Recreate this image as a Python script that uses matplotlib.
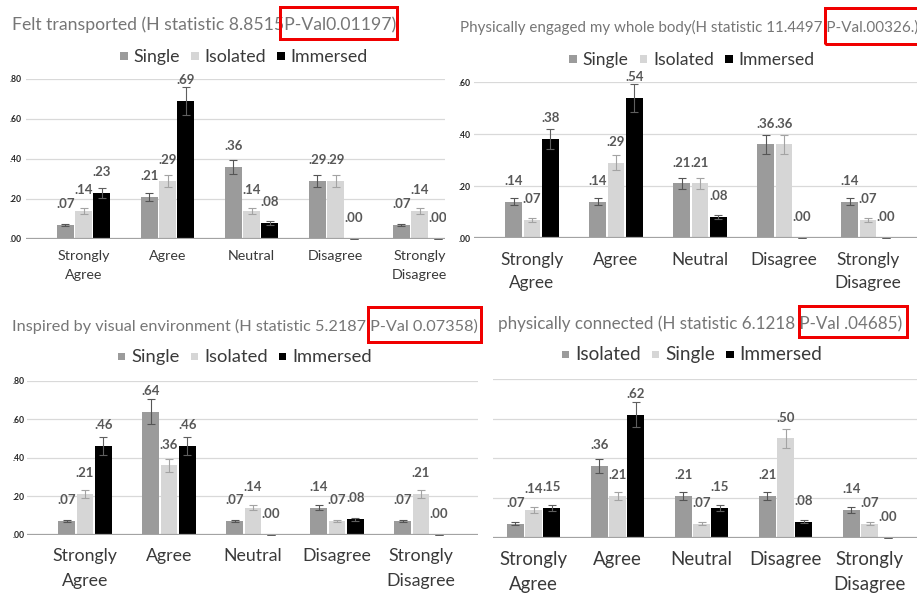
import matplotlib
matplotlib.use("Agg")
import matplotlib.pyplot as plt
import numpy as np
from matplotlib.patches import Rectangle
from matplotlib.transforms import Bbox, TransformedBbox, blended_transform_factory

# ---------------- data ----------------
categories = ["Strongly\nAgree", "Agree", "Neutral", "Disagree", "Strongly\nDisagree"]

p1_title = "Felt transported (H statistic 8.8515P-Val0.01197)"
p1_names = ["Single", "Isolated", "Immersed"]
p1_single = [0.07, 0.21, 0.36, 0.29, 0.07]
p1_isolated = [0.14, 0.29, 0.14, 0.29, 0.14]
p1_immersed = [0.23, 0.69, 0.08, 0.00, 0.00]
p1_yticks = [0.0, 0.2, 0.4, 0.6, 0.8]

p2_title = "Physically engaged my whole body(H statistic 11.4497 P-Val.00326.)"
p2_names = ["Single", "Isolated", "Immersed"]
p2_single = [0.14, 0.14, 0.21, 0.36, 0.14]
p2_isolated = [0.07, 0.29, 0.21, 0.36, 0.07]
p2_immersed = [0.38, 0.54, 0.08, 0.00, 0.00]
p2_yticks = [0.0, 0.2, 0.4, 0.6]

p3_title = "Inspired by visual environment (H statistic 5.2187 P-Val 0.07358)"
p3_names = ["Single", "Isolated", "Immersed"]
p3_single = [0.07, 0.64, 0.07, 0.14, 0.07]
p3_isolated = [0.21, 0.36, 0.14, 0.07, 0.21]
p3_immersed = [0.46, 0.46, 0.00, 0.08, 0.00]
p3_yticks = [0.0, 0.2, 0.4, 0.6, 0.8]

p4_title = "physically connected (H statistic 6.1218 P-Val .04685)"
p4_names = ["Isolated", "Single", "Immersed"]
p4_isolated = [0.07, 0.36, 0.21, 0.21, 0.14]
p4_single = [0.14, 0.21, 0.07, 0.50, 0.07]
p4_immersed = [0.15, 0.62, 0.15, 0.08, 0.00]
p4_yticks = [0.0, 0.2, 0.4, 0.6, 0.8]

ERR_FRACTION = 0.10  # Excel "percentage" error bars

# ---------------- style ----------------
W, H = 917, 594
FONT = "Lato"
BAR_COLORS = ["#9b9b9b", "#d6d6d6", "#000000"]
ERR_COLORS = ["#555555", "#a3a3a3", "#5f5f5f"]
TITLE_COLOR = "#767676"
TEXT_COLOR = "#3a3a3a"
LABEL_COLOR = "#585858"
RED = "#f00000"

fig = plt.figure(figsize=(W / 100, H / 100), dpi=100)
fig.patch.set_facecolor("white")
renderer = fig.canvas.get_renderer()


def fx(px):
    return px / W


def fy(py):
    return 1 - py / H


def text_width(s, size, weight="normal"):
    t = fig.text(0, 0, s, fontsize=size, family=FONT, fontweight=weight)
    w = t.get_window_extent(renderer).width
    t.remove()
    return w


def size_for_width(s, target, weight="normal"):
    base = 12.0
    return base * target / text_width(s, base, weight)


def fitted_title(s, x0, x1, baseline):
    fs = size_for_width(s, x1 - x0)
    fig.text(fx(x0), fy(baseline), s, fontsize=fs, family=FONT,
             color=TITLE_COLOR, ha="left", va="baseline")


def red_box(x0, y0, x1, y1):
    lw_px = 3.0
    r = Rectangle((fx(x0 + lw_px / 2), fy(y1 - lw_px / 2)),
                  (x1 - x0 - lw_px) / W, (y1 - y0 - lw_px) / H,
                  transform=fig.transFigure, fill=False, ec=RED,
                  lw=lw_px * 0.72, zorder=10)
    fig.add_artist(r)


def legend(names, cx, baseline, target_width):
    sq, gap, colsp = 7.5, 6.0, 11.0
    fs = 13.0
    for _ in range(3):
        widths = [text_width(n, fs) for n in names]
        total = sum(widths) + len(names) * (sq + gap) + colsp * (len(names) - 1)
        text_total = sum(widths)
        fs *= (text_total + target_width - total) / text_total
    widths = [text_width(n, fs) for n in names]
    total = sum(widths) + len(names) * (sq + gap) + colsp * (len(names) - 1)
    x = cx - total / 2
    for n, c, w in zip(names, BAR_COLORS, widths):
        fig.add_artist(Rectangle((fx(x), fy(baseline - 2)), sq / W, sq / H,
                                 transform=fig.transFigure, color=c, lw=0))
        fig.text(fx(x + sq + gap), fy(baseline), n, fontsize=fs, family=FONT,
                 color=TEXT_COLOR, ha="left", va="baseline")
        x += sq + gap + w + colsp


def panel(series, yticks, left, right, zero, top, c0, cat_baselines,
          cat_width, clip_right=None, show_yticks=True, tick_pad=3.0):
    ymax = yticks[-1]
    ax = fig.add_axes([fx(left), fy(zero), fx(right - left), (zero - top) / H])
    spacing = 84.0
    ax.set_xlim((left - c0) / spacing, (right - c0) / spacing)
    ax.set_ylim(0, ymax)
    for s in ax.spines.values():
        s.set_visible(False)
    ax.set_xticks([])
    ax.set_yticks(yticks)
    ax.tick_params(axis="y", length=0, pad=tick_pad)
    if show_yticks:
        ax.set_yticklabels(["." + f"{v:.2f}".split(".")[1] for v in yticks],
                           fontsize=6.2, fontweight="bold", family=FONT,
                           color="#262626")
    else:
        ax.set_yticklabels([])
    for v in yticks[1:]:
        ax.axhline(v, color="#d9d9d9", lw=0.9, zorder=0)
    ax.axhline(0, color="#a3a3a3", lw=1.6, zorder=4)

    clip = None
    if clip_right is not None:
        clip = TransformedBbox(Bbox.from_extents(0, 0, fx(clip_right), 1),
                               fig.transFigure)

    xs = np.arange(len(categories))
    for k, vals in enumerate(series):
        vals = np.asarray(vals, dtype=float)
        x = xs + (k - 1) * 0.217
        ax.bar(x, vals, width=0.2, color=BAR_COLORS[k], zorder=2)
        ax.errorbar(x, vals, yerr=vals * ERR_FRACTION, fmt="none",
                    ecolor=ERR_COLORS[k], elinewidth=0.8, capsize=2.9,
                    capthick=0.8, zorder=3)
        for xi, v in zip(x, vals):
            t = ax.annotate(f"{v:.2f}"[1:], (xi, v), xytext=(0, 15),
                            textcoords="offset points", ha="center",
                            va="center", fontsize=9.5, fontweight="bold",
                            family=FONT, color=LABEL_COLOR,
                            annotation_clip=False)
            if clip is not None:
                t.set_clip_on(True)
                t.set_clip_box(clip)

    cat_fs = size_for_width("Strongly", cat_width)
    tr = blended_transform_factory(ax.transData, fig.transFigure)
    for i, cat in enumerate(categories):
        for j, line in enumerate(cat.split("\n")):
            t = ax.text(i, fy(cat_baselines[j]), line, transform=tr,
                        ha="center", va="baseline", fontsize=cat_fs,
                        family=FONT, color=TEXT_COLOR, clip_on=False)
            if clip is not None:
                t.set_clip_on(True)
                t.set_clip_box(clip)
    return ax


# ---------------- panel 1 (top-left) ----------------
fitted_title(p1_title, 12, 393, 30)
legend(p1_names, 244, 62, 248)
panel([p1_single, p1_isolated, p1_immersed], p1_yticks,
      left=26, right=445, zero=239, top=79, c0=83.5,
      cat_baselines=(260, 279), cat_width=52, clip_right=446, tick_pad=3.5)
red_box(278, 5, 398, 40)

# ---------------- panel 2 (top-right) ----------------
fitted_title(p2_title, 460, 915, 32)
legend(p2_names, 692, 65, 245)
panel([p2_single, p2_isolated, p2_immersed], p2_yticks,
      left=474, right=917, zero=238, top=82, c0=532,
      cat_baselines=(265, 288), cat_width=63, tick_pad=2.5)
red_box(823, 7, 930, 45)

# ---------------- panel 3 (bottom-left) ----------------
fitted_title(p3_title, 12, 475, 331)
legend(p3_names, 245, 362, 255)
panel([p3_single, p3_isolated, p3_immersed], p3_yticks,
      left=27, right=478, zero=534.5, top=381, c0=85,
      cat_baselines=(561, 586), cat_width=65, tick_pad=2.0)
red_box(366, 305, 482, 343)

# ---------------- panel 4 (bottom-right) ----------------
fitted_title(p4_title, 498, 902, 329)
legend(p4_names, 692, 360, 261)
panel([p4_isolated, p4_single, p4_immersed], p4_yticks,
      left=493, right=917, zero=537.5, top=379, c0=533.5,
      cat_baselines=(565, 590), cat_width=68, show_yticks=False)
red_box(797, 304, 908, 338)

fig.savefig("out.png", dpi=100, facecolor="white")
